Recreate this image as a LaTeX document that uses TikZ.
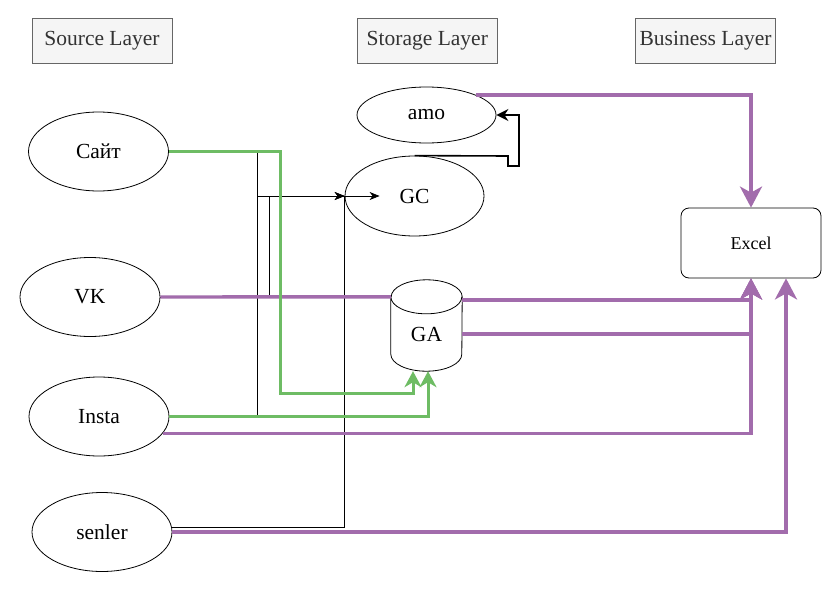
\documentclass[tikz,border=0pt]{standalone}
\usepackage{fontspec}
\setmainfont{Liberation Serif}
\usepackage{xcolor}
\definecolor{colorLoad}{RGB}{162,108,172}
\definecolor{colorTrack}{RGB}{110,188,100}
\definecolor{colorLayerFill}{RGB}{245,245,245}
\definecolor{colorLayerLine}{RGB}{102,102,102}
\definecolor{colorLayerText}{RGB}{51,51,51}
\usepackage{tikz}
\usetikzlibrary{arrows.meta, shapes.geometric, positioning}
\tikzset{
  layer/.style={draw=colorLayerLine, fill=colorLayerFill, text=colorLayerText, line width=0.8pt, minimum width=140pt, minimum height=45pt, inner sep=0pt},
  source/.style={ellipse, draw, line width=0.8pt, minimum width=140pt, minimum height=79pt, inner sep=0pt},
  sheet/.style={draw, rounded corners=8pt, line width=0.8pt, minimum width=140pt, minimum height=70pt, inner sep=0pt, font=\fontsize{18}{22}\selectfont},
  load/.style={colorLoad, line width=3.4pt, -{Stealth[length=21pt, width=22pt, inset=6pt]}},
  track/.style={colorTrack, line width=3pt, -{Stealth[length=16pt, width=17pt, inset=5pt]}},
  feed/.style={black, line width=0.8pt, -{Stealth[length=10pt, width=8pt, inset=3pt]}}
}

\begin{document}
\begin{tikzpicture}[x=1pt, y=-1pt, every node/.style={font=\fontsize{21.5}{25}\selectfont}]
\useasboundingbox[fill=white] (0,0) rectangle (837,594);
% layers
\node[layer] (srcLayer) at (102,40.5) {Source Layer};
\node[layer, right=184.5pt of srcLayer] (stoLayer) {Storage Layer};
\node[layer, right=137.5pt of stoLayer] (busLayer) {Business Layer};
% sources
\node[source] (sait) at (98.5,151.5) {Сайт};
\node[source] (vk) at (90,297) {VK};
\node[source] (insta) at (99,416.5) {Insta};
\node[source] (senler) at (102,532) {senler};
% storage
\node[source, minimum width=139pt, minimum height=56pt] (amo) at (426.5,115) {amo};
\node[source, minimum width=139pt, minimum height=80pt] (gc) at (414.5,196) {GC};
\node[minimum width=71pt, minimum height=74pt, inner sep=0pt] (ga) at (426.5,334) {GA};
\draw[line width=0.8pt] (ga.north west) -- ([yshift=17pt]ga.south west) arc[start angle=180, end angle=360, x radius=35.5pt, y radius=17pt] -- (ga.north east) arc[start angle=0, end angle=180, x radius=35.5pt, y radius=17pt];
\draw[line width=0.8pt] (ga.north west) arc[start angle=180, end angle=360, x radius=35.5pt, y radius=17pt];
% business
\node[sheet] (excel) at (751,243) {Excel};
% black flows
\draw[feed] (sait.east) -| (257,196) -- (gc.west);
\draw[feed] (insta.east) -| (257,196) -- (gc.west);
\draw[feed] (vk.east) -| (269,196) -- ([xshift=35pt]gc.west);
\draw[feed, -] ([yshift=5pt]senler.east) -| (gc.west);
\draw[feed, line width=1.6pt, -{Stealth[length=12pt, width=12pt, inset=4pt]}] (gc.north) -- (508,156) -- (508,166) -- (519,166) |- (amo.east);
% purple flows
\draw[load] (amo.north east) -| (excel.north);
\draw[load, -] (vk.east) -- (ga.north west);
\draw[load] ([yshift=-3pt]ga.north east) -| (excel.south);
\draw[load] (ga.east) -| (excel.south);
\draw[load] (insta.-15) -| (excel.south);
\draw[load] (senler.east) -| ([xshift=35pt]excel.south);
% green flows
\draw[track] (sait.east) -| (280,393) -| ([xshift=-13.5pt]ga.south);
\draw[track] (insta.east) -| ([xshift=1.5pt]ga.south);
\end{tikzpicture}
\end{document}
